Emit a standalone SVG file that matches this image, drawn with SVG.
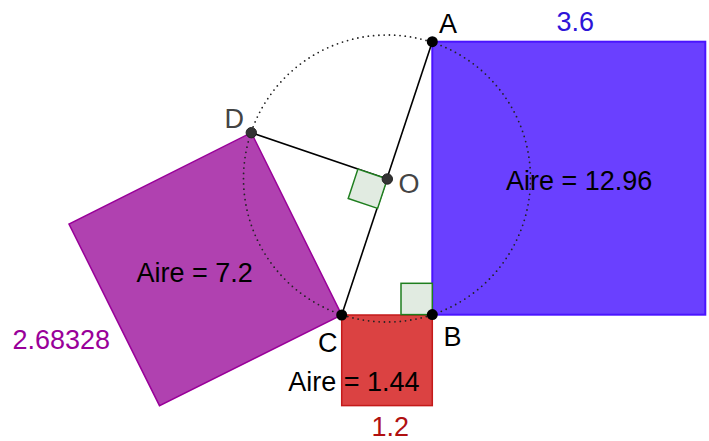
<svg xmlns="http://www.w3.org/2000/svg" width="709" height="441" viewBox="0 0 709 441">
<style>
text{font-family:"Liberation Sans",Arial,sans-serif;font-size:27px}
.lbl{fill:#000}
.gl{fill:#444}
.seg{stroke:#000;stroke-width:1.6;fill:none}
.ra{fill:#e1ebe1;stroke:#1f7f1f;stroke-width:1.5}
.pt{fill:#000}
.ptg{fill:#333;stroke:#222;stroke-width:1}
</style>
<rect width="709" height="441" fill="#fff"/>
<g id="sq-purple">
<polygon points="251.3,132.7 341.7,315 159.5,405.7 69,224" fill="#b041b0" stroke="#990099" stroke-width="1.5"/>
<text x="136.5" y="281.5" class="lbl">Aire = 7.2</text>
<text x="12.5" y="349" fill="#990099">2.68328</text>
</g>
<g id="sq-red">
<rect x="341.7" y="315" width="90.6" height="90.6" fill="#db4242" stroke="#c41a1a" stroke-width="1.5"/>
<text x="288.3" y="390.7" class="lbl">Aire = 1.44</text>
<text x="371.5" y="436" fill="#b01010">1.2</text>
</g>
<g id="sq-blue">
<rect x="432.3" y="41.7" width="273" height="273" fill="#6a40ff" stroke="#4a14ff" stroke-width="2"/>
<text x="506" y="190" class="lbl">Aire = 12.96</text>
<text x="556.5" y="30.7" fill="#2e14d8">3.6</text>
</g>
<g id="circle">
<circle cx="387" cy="178.5" r="143.5" fill="none" stroke="#222" stroke-width="1.8" stroke-linecap="round" stroke-dasharray="0 5.3"/>
</g>
<g id="connectors">
<line x1="432.3" y1="41.7" x2="341.7" y2="315" class="seg"/>
<line x1="251.3" y1="132.7" x2="387.3" y2="179" class="seg"/>
</g>
<g id="right-angles">
<rect x="401" y="283.3" width="31.3" height="31.3" class="ra"/>
<polygon points="387.3,179 357.9,169.1 348.2,198.5 377.6,208.4" class="ra"/>
</g>
<g id="pt-A"><circle cx="432.3" cy="41.7" r="5.5" class="pt"/><text x="439" y="33" class="lbl">A</text></g>
<g id="pt-B"><circle cx="432.3" cy="314.6" r="5.5" class="pt"/><text x="443.5" y="346" class="lbl">B</text></g>
<g id="pt-C"><circle cx="341.7" cy="315" r="5.5" class="pt"/><text x="318" y="351.5" class="lbl">C</text></g>
<g id="pt-D"><circle cx="251.3" cy="132.7" r="5.2" class="ptg"/><text x="224.5" y="127.5" class="gl">D</text></g>
<g id="pt-O"><circle cx="387.3" cy="179" r="5.2" class="ptg"/><text x="398.5" y="193" class="gl">O</text></g>
</svg>
